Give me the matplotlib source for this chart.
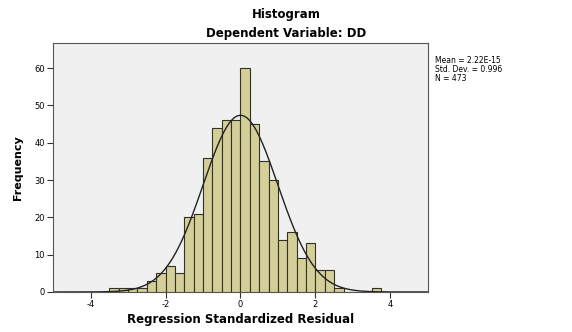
import matplotlib.pyplot as plt
import numpy as np

plt.rcParams['axes.unicode_minus'] = False

# bin edges start at -3.5, width 0.25
bin_start = -3.5
bin_width = 0.25
counts = [1, 1, 1, 1, 3, 5, 7, 5, 20, 21, 36, 44, 46, 46,
          60, 45, 35, 30, 14, 16, 9, 13, 6, 6, 1, 0, 0, 0, 1]

mean = 2.22e-15
std = 0.996
n = 473

x_ticks = [-4, -2, 0, 2, 4]
y_ticks = [0, 10, 20, 30, 40, 50, 60]

fig = plt.figure(figsize=(5.72, 3.32), dpi=100)
ax = fig.add_axes([0.0927, 0.1205, 0.6555, 0.7495])
ax.set_facecolor('#f0f0f0')

lefts = bin_start + bin_width * np.arange(len(counts))
ax.bar(lefts, counts, width=bin_width, align='edge',
       color='#d4cf98', edgecolor='#333325', linewidth=0.8)

xs = np.linspace(-5, 5, 400)
curve = n * bin_width / (std * np.sqrt(2 * np.pi)) * np.exp(-0.5 * ((xs - mean) / std) ** 2)
ax.plot(xs, curve, color='#222222', linewidth=1.0)

ax.set_xlim(-5, 5)
ax.set_ylim(0, 66.7)
ax.set_xticks(x_ticks)
ax.set_yticks(y_ticks)
ax.tick_params(labelsize=6, length=4, width=0.8, color='#333333', pad=2)
for s in ax.spines.values():
    s.set_color('#555555')
    s.set_linewidth(0.8)

ax.set_xlabel('Regression Standardized Residual', fontsize=8.5, fontweight='bold', labelpad=3)
ax.set_ylabel('Frequency', fontsize=8, fontweight='bold', labelpad=8)

fig.text(0.5, 0.955, 'Histogram', ha='center', va='center', fontsize=8.5, fontweight='bold')
fig.text(0.5, 0.898, 'Dependent Variable: DD', ha='center', va='center', fontsize=8.5, fontweight='bold')

fig.text(0.760, 0.830, 'Mean = 2.22E-15\nStd. Dev. = 0.996\nN = 473',
         ha='left', va='top', fontsize=5.5, linespacing=0.95)

fig.savefig('out.png', dpi=100)
